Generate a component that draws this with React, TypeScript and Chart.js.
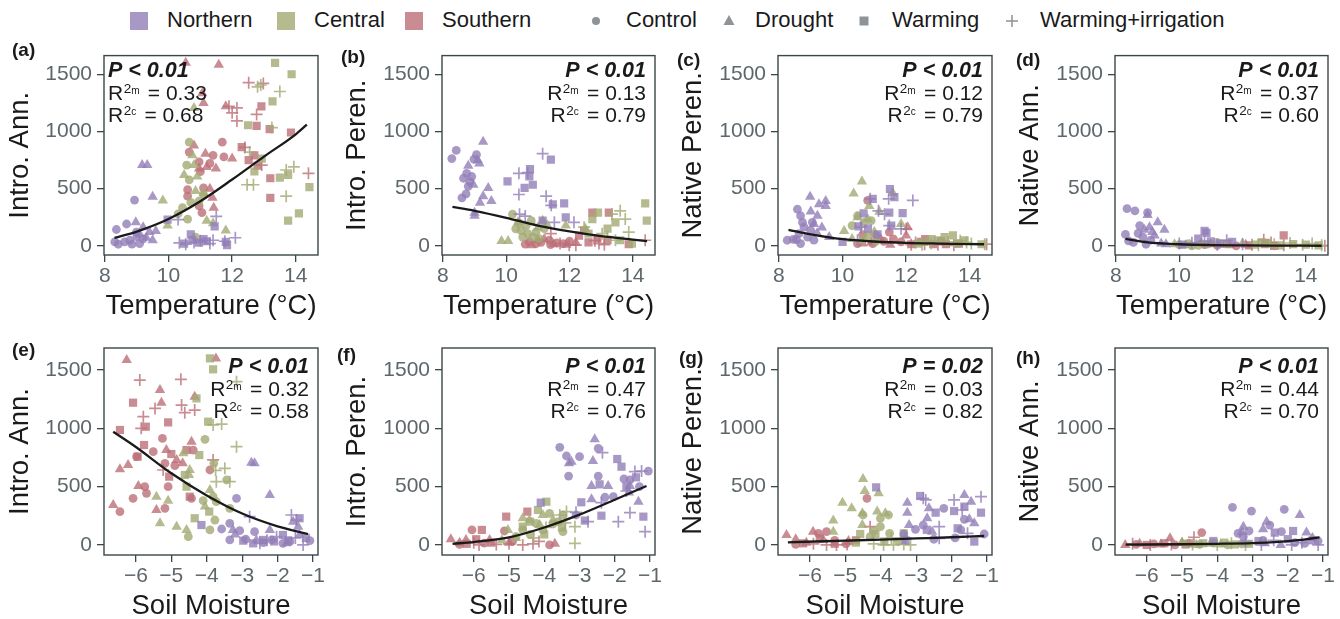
import React, { useEffect, useRef } from 'react';
import { Chart, registerables } from 'chart.js';

Chart.register(...registerables);

type P3 = [number, number, number];
type P2 = [number, number];

// treatment codes
const C = 0; // Control
const D = 1; // Drought
const W = 2; // Warming
const I = 3; // Warming+irrigation

// ---------- labels ----------
const REGIONS = ['Northern', 'Central', 'Southern'];
const TREATMENTS = ['Control', 'Drought', 'Warming', 'Warming+irrigation'];
const PANEL_LABELS = ['(a)', '(b)', '(c)', '(d)', '(e)', '(f)', '(g)', '(h)'];
const Y_TITLES = ['Intro. Ann.', 'Intro. Peren.', 'Native Peren.', 'Native Ann.', 'Intro. Ann.', 'Intro. Peren.', 'Native Peren.', 'Native Ann.'];
const X_TITLES = ['Temperature (°C)', 'Soil Moisture'];
const P_TEXTS = ['P < 0.01', 'P < 0.01', 'P < 0.01', 'P < 0.01', 'P < 0.01', 'P < 0.01', 'P = 0.02', 'P < 0.01'];
const R2M = ['0.33', '0.13', '0.12', '0.37', '0.32', '0.47', '0.03', '0.44'];
const R2C = ['0.68', '0.79', '0.79', '0.60', '0.58', '0.76', '0.82', '0.70'];
const TEMP_TICKS = [8, 10, 12, 14];
const MOIST_TICKS = [-6, -5, -4, -3, -2, -1];
const Y_TICKS = [0, 500, 1000, 1500];

// ---------- (a) Temperature vs Intro. Ann. ----------
const A_NORTH: P3[] = [
  [8.36, 143, C], [8.68, 191, C], [8.31, 34, C], [8.42, 14, C], [8.62, 34, C], [8.78, 49, C], [8.93, 400, C], [8.99, 120, C], [9.09, 20, C], [9.2, 60, C], [8.85, 15, C], [9.0, 80, C],
  [9.17, 706, D], [9.33, 706, D], [9.5, 429, D], [8.97, 206, D], [9.2, 163, D], [9.5, 49, D], [9.4, 120, D], [9.3, 70, D], [9.1, 100, D], [9.6, 130, D],
  [9.97, 229, W], [10.49, 20, W], [10.75, 49, W], [10.96, 29, W], [11.2, 40, W], [11.45, 171, W], [11.8, 34, W], [11.84, 6, W], [10.7, 100, W], [11.1, 60, W],
  [10.34, 26, I], [10.54, 14, I], [10.8, 30, I], [11.0, 45, I], [11.4, 49, I], [11.5, 257, I], [11.77, 40, I], [12.1, 71, I], [10.3, 230, I], [11.3, 20, I],
];
const A_CENTRAL: P3[] = [
  [10.65, 906, C], [10.57, 706, C], [10.65, 577, C], [10.44, 334, C], [10.3, 280, C], [10.85, 77, C], [10.6, 234, C], [10.96, 391, C], [11.1, 450, C], [10.7, 380, C],
  [9.82, 397, D], [9.97, 177, D], [10.75, 791, D], [10.8, 706, D], [10.49, 620, D], [10.9, 606, D], [10.85, 480, D], [11.2, 220, D], [11.4, 197, D], [11.8, 134, D], [10.8, 1206, D], [11.1, 460, D],
  [13.35, 1600, W], [13.87, 1500, W], [12.5, 1054, W], [13.27, 1263, W], [13.76, 620, W], [13.5, 597, W], [13.76, 220, W], [14.1, 283, W], [14.43, 514, W], [12.93, 763, W], [12.7, 650, W],
  [12.9, 1406, I], [13.5, 1349, I], [13.25, 1034, I], [12.55, 820, I], [12.67, 534, I], [12.47, 534, I], [13.7, 663, I], [13.94, 691, I], [13.7, 434, I], [12.8, 1390, I],
];
const A_SOUTH: P3[] = [
  [10.65, 820, C], [10.96, 734, C], [11.0, 649, C], [10.6, 491, C], [10.6, 434, C], [11.1, 506, C], [10.96, 349, C], [11.05, 291, C], [11.4, 791, C], [11.69, 906, C], [11.74, 777, C], [11.3, 720, C],
  [10.54, 1600, D], [11.58, 1583, D], [11.06, 1334, D], [11.1, 1249, D], [11.8, 1220, D], [10.8, 877, D], [11.16, 806, D], [10.96, 677, D], [11.2, 690, D], [11.49, 677, D], [11.42, 334, D], [11.38, 420, D], [12.0, 763, D], [11.3, 500, D],
  [12.92, 1220, W], [12.77, 1049, W], [13.18, 1020, W], [13.85, 991, W], [12.3, 863, W], [12.52, 749, W], [12.7, 791, W], [13.2, 591, W], [13.2, 420, W], [12.8, 700, W],
  [12.52, 1426, I], [12.98, 1420, I], [11.9, 1220, I], [12.15, 1206, I], [12.0, 1163, I], [12.77, 1149, I], [12.15, 1092, I], [12.93, 706, I], [14.4, 634, I], [12.4, 860, I],
];
const FIT_A: P2[] = [[8.3, 70], [9, 125], [10, 235], [11, 390], [12, 580], [13, 780], [14, 975], [14.35, 1060]];

// ---------- (b) Temperature vs Intro. Peren. ----------
const B_NORTH: P3[] = [
  [8.28, 763, C], [8.42, 834, C], [8.75, 634, C], [8.65, 591, C], [8.91, 606, C], [8.6, 420, C], [8.73, 454, C], [9.06, 797, C], [8.98, 757, C], [8.85, 560, C], [8.8, 520, C],
  [9.27, 911, D], [8.8, 700, D], [9.1, 748, D], [9.15, 720, D], [8.96, 534, D], [9.0, 263, D], [9.43, 506, D], [9.27, 434, D], [9.53, 391, D], [9.17, 377, D], [9.0, 290, D],
  [10.04, 563, W], [10.58, 506, W], [10.73, 606, W], [10.84, 534, W], [11.41, 754, W], [11.47, 363, W], [11.83, 371, W], [11.88, 249, W], [11.15, 220, W], [10.75, 670, W],
  [10.4, 634, I], [10.68, 640, I], [10.4, 449, I], [11.15, 806, I], [11.26, 434, I], [11.42, 354, I], [10.42, 277, I], [11.52, 206, I], [12.14, 206, I], [10.6, 260, I],
];
const B_CENTRAL: P3[] = [
  [10.2, 277, C], [10.3, 149, C], [10.47, 134, C], [10.52, 77, C], [10.68, 106, C], [10.84, 77, C], [10.94, 120, C], [10.63, 177, C], [11.04, 63, C], [10.79, 220, C], [10.4, 200, C], [11.2, 150, C],
  [9.85, 43, D], [10.06, 43, D], [10.37, 206, D], [11.15, 220, D], [11.88, 177, D], [11.3, 180, D], [11.0, 160, D], [12.5, 150, D],
  [14.39, 371, W], [14.44, 220, W], [12.72, 234, W], [12.9, 291, W], [13.45, 206, W], [13.6, 49, W], [13.97, 20, W], [12.6, 106, W], [13.2, 150, W],
  [13.6, 306, I], [13.34, 277, I], [13.76, 234, I], [13.87, 120, I], [12.46, 163, I], [13.03, 106, I], [13.45, 49, I], [13.2, 80, I],
];
const B_SOUTH: P3[] = [
  [10.73, 34, C], [10.94, 20, C], [11.1, 30, C], [11.4, 10, C], [11.36, 49, C], [10.6, 15, C], [11.8, 20, C], [12.0, 40, C], [11.6, 25, C],
  [10.8, 5, D], [11.0, 50, D], [11.5, 15, D], [11.2, 60, D], [12.2, 30, D], [11.9, 10, D],
  [12.72, 291, W], [13.24, 291, W], [12.46, 134, W], [12.88, 63, W], [13.87, 14, W], [12.6, 30, W], [13.2, 50, W], [12.3, 90, W],
  [11.41, 106, I], [11.99, 6, I], [12.2, 6, I], [14.39, 49, I], [12.93, 20, I], [12.8, 45, I], [11.7, 20, I], [13.1, 10, I],
];
const FIT_B: P2[] = [[8.3, 340], [9, 306], [10, 245], [11, 177], [12, 126], [13, 85], [14, 55], [14.45, 42]];

// ---------- (c) Temperature vs Native Peren. ----------
const C_NORTH: P3[] = [
  [8.26, 49, C], [8.45, 57, C], [8.58, 320, C], [8.68, 263, C], [8.74, 206, C], [8.79, 163, C], [8.63, 106, C], [8.68, 20, C], [8.9, 77, C], [9.0, 134, C], [9.05, 206, C], [9.1, 50, C], [8.55, 55, C],
  [8.98, 429, D], [9.21, 263, D], [9.26, 363, D], [9.47, 391, D], [9.47, 349, D], [9.1, 191, D], [9.2, 110, D], [9.58, 77, D], [9.35, 160, D], [9.0, 300, D],
  [10.0, 34, W], [10.95, 411, W], [10.66, 283, W], [10.5, 170, W], [11.63, 426, W], [11.49, 497, W], [11.47, 291, W], [11.89, 286, W], [11.53, 177, W], [10.8, 150, W], [11.1, 100, W],
  [10.58, 163, I], [10.87, 411, I], [11.13, 306, I], [11.45, 411, I], [12.21, 397, I], [11.47, 177, I], [11.84, 149, I], [10.47, 49, I], [11.32, 277, I],
];
const C_CENTRAL: P3[] = [
  [10.47, 263, C], [10.3, 177, C], [10.68, 206, C], [10.9, 220, C], [10.62, 50, C], [11.05, 40, C], [10.8, 90, C],
  [10.35, 457, D], [10.61, 563, D], [10.47, 249, D], [10.79, 234, D], [10.84, 349, D], [11.16, 297, D], [11.0, 120, D], [10.05, 129, D], [11.84, 191, D], [11.58, 463, D], [10.3, 60, D],
  [13.21, 77, W], [13.47, 91, W], [13.0, 49, W], [12.58, 34, W], [13.84, 49, W], [14.37, 14, W], [12.37, 20, W], [13.6, 20, W], [12.8, 60, W],
  [12.79, 20, I], [13.32, 34, I], [14.05, 20, I], [14.47, 14, I], [13.7, 45, I], [12.5, 10, I], [13.9, 30, I],
];
const C_SOUTH: P3[] = [
  [10.79, 397, C], [10.63, 97, C], [10.95, 20, C], [11.05, 91, C], [11.47, 120, C], [11.3, 40, C], [11.84, 34, C], [10.47, 20, C], [11.6, 60, C],
  [10.63, 20, D], [12.0, 91, D], [12.05, 163, D], [10.9, 30, D], [11.5, 10, D], [11.2, 60, D],
  [12.16, 14, W], [12.47, 34, W], [12.85, 14, W], [13.25, 14, W], [13.66, 20, W], [12.6, 60, W], [13.1, 40, W],
  [12.0, 149, I], [12.16, 10, I], [12.58, 14, I], [13.0, 10, I], [13.5, 5, I], [14.53, 14, I], [12.3, 30, I],
];
const FIT_C: P2[] = [[8.3, 140], [9, 100], [10, 58], [11, 38], [12, 26], [13, 20], [14.45, 14]];

// ---------- (d) Temperature vs Native Ann. ----------
const D_NORTH: P3[] = [
  [8.35, 325, C], [8.6, 306, C], [8.3, 100, C], [8.4, 43, C], [8.75, 177, C], [9.0, 291, C], [8.85, 77, C], [8.95, 14, C], [8.7, 110, C], [9.1, 50, C], [8.55, 30, C],
  [9.0, 270, D], [9.06, 163, D], [9.32, 206, D], [9.53, 140, D], [9.22, 91, D], [9.43, 20, D], [9.58, 14, D], [9.15, 120, D], [8.9, 140, D],
  [10.86, 114, W], [10.8, 130, W], [10.6, 63, W], [11.67, 34, W], [11.0, 40, W], [10.1, 10, W], [11.3, 20, W],
  [10.4, 26, I], [11.5, 49, I], [10.8, 40, I], [12.0, 14, I], [11.2, 10, I], [10.0, 20, I],
];
const D_CENTRAL: P3[] = [
  [10.0, 10, C], [10.3, 20, C], [10.6, 5, C], [10.9, 15, C], [11.2, 30, C], [10.4, 0, C],
  [9.85, 15, D], [10.2, 5, D], [10.7, 25, D], [11.5, 10, D], [12.0, 20, D],
  [12.4, 10, W], [12.8, 20, W], [13.2, 5, W], [13.6, 15, W], [14.0, 10, W], [14.4, 5, W], [12.6, 30, W],
  [12.5, 5, I], [13.0, 15, I], [13.5, 25, I], [13.9, 10, I], [14.5, 5, I], [14.2, 20, I],
];
const D_SOUTH: P3[] = [
  [10.8, 10, C], [11.2, 5, C], [11.5, 20, C], [11.8, 0, C],
  [11.0, 15, D], [11.6, 5, D], [12.1, 10, D],
  [13.3, 91, W], [12.2, 5, W], [12.7, 15, W], [13.0, 0, W],
  [12.67, 54, I], [12.3, 10, I], [12.9, 30, I], [13.3, 5, I], [14.6, 0, I],
];
const FIT_D: P2[] = [[8.3, 60], [9, 30], [10, 14], [11, 7], [12, 4], [13, 2], [14.5, 1]];

// ---------- (e) Soil moisture vs Intro. Ann. ----------
const E_NORTH: P3[] = [
  [-3.16, 400, C], [-3.35, 186, C], [-3.58, 137, C], [-3.07, 123, C], [-2.65, 114, C], [-3.35, 43, C], [-2.17, 43, C], [-1.85, 14, C], [-1.09, 37, C], [-1.65, 30, C], [-2.4, 20, C], [-2.9, 50, C],
  [-2.74, 706, D], [-2.65, 700, D], [-2.22, 429, D], [-3.26, 129, D], [-2.22, 129, D], [-1.56, 200, D], [-1.42, 157, D], [-1.38, 86, D], [-1.75, 14, D], [-2.6, 40, D], [-3.2, 90, D],
  [-4.15, 171, W], [-2.97, 37, W], [-2.69, 14, W], [-2.41, 43, W], [-1.85, 86, W], [-1.38, 229, W], [-1.7, 40, W], [-2.1, 30, W], [-1.2, 60, W],
  [-2.79, 243, I], [-1.61, 257, I], [-1.47, 214, I], [-2.5, 14, I], [-1.28, 0, I], [-2.03, 71, I], [-2.3, 40, I], [-1.5, 60, I],
];
const E_CENTRAL: P3[] = [
  [-4.52, 71, C], [-4.05, 906, C], [-3.82, 414, C], [-3.91, 129, C], [-3.77, 214, C], [-3.44, 557, C], [-3.35, 314, C], [-3.73, 371, C], [-4.1, 380, C], [-3.8, 700, C],
  [-5.32, 186, D], [-4.85, 157, D], [-4.57, 129, D], [-4.48, 643, D], [-4.66, 786, D], [-5.42, 414, D], [-5.09, 380, D], [-3.91, 471, D], [-4.05, 329, D], [-4.5, 600, D],
  [-3.91, 1600, W], [-3.82, 1506, W], [-4.29, 1257, W], [-3.96, 1057, W], [-4.21, 771, W], [-4.62, 600, W], [-4.57, 500, W], [-4.34, 229, W], [-3.93, 286, W],
  [-3.16, 1400, I], [-3.82, 1029, I], [-3.58, 1037, I], [-3.16, 843, I], [-3.49, 657, I], [-3.73, 543, I], [-3.35, 543, I], [-3.75, 640, I],
];
const E_SOUTH: P3[] = [
  [-6.45, 286, C], [-6.08, 400, C], [-5.98, 757, C], [-5.75, 500, C], [-5.7, 443, C], [-5.25, 914, C], [-5.18, 700, C], [-5.09, 500, C], [-5.18, 314, C], [-5.51, 800, C], [-4.38, 814, C], [-4.43, 400, C], [-3.91, 643, C], [-4.9, 680, C],
  [-6.26, 1586, D], [-5.32, 1329, D], [-5.28, 1220, D], [-6.64, 343, D], [-6.45, 649, D], [-6.22, 686, D], [-5.93, 506, D], [-4.43, 886, D], [-4.85, 729, D], [-4.68, 700, D], [-5.14, 814, D], [-5.42, 300, D], [-4.34, 1271, D], [-3.74, 1600, D],
  [-6.45, 986, W], [-6.08, 1220, W], [-5.72, 1014, W], [-5.77, 857, W], [-5.09, 1051, W], [-5.06, 586, W], [-4.57, 814, W], [-4.48, 414, W], [-5.95, 757, W], [-5.0, 780, W],
  [-5.89, 1414, I], [-5.79, 1100, I], [-5.46, 1171, I], [-4.73, 1420, I], [-4.71, 1200, I], [-4.62, 1134, I], [-4.34, 1157, I], [-5.23, 643, I], [-3.82, 729, I], [-5.85, 1000, I],
];
const FIT_E: P2[] = [[-6.64, 971], [-6, 840], [-5, 615], [-4, 425], [-3, 270], [-2, 160], [-1.14, 94]];

// ---------- (f) Soil moisture vs Intro. Peren. ----------
const F_NORTH: P3[] = [
  [-3.56, 837, C], [-3.37, 763, C], [-3.31, 591, C], [-3.0, 757, C], [-2.47, 591, C], [-2.47, 829, C], [-2.28, 409, C], [-2.04, 414, C], [-1.74, 566, C], [-1.57, 557, C], [-1.05, 634, C], [-3.1, 257, C], [-1.3, 500, C],
  [-2.57, 906, D], [-3.23, 714, D], [-2.62, 720, D], [-2.66, 506, D], [-2.19, 506, D], [-2.66, 391, D], [-1.33, 371, D], [-1.57, 506, D], [-3.3, 700, D], [-1.6, 450, D],
  [-4.1, 363, W], [-2.95, 366, W], [-2.43, 520, W], [-2.38, 251, W], [-2.85, 209, W], [-1.93, 737, W], [-1.81, 671, W], [-1.19, 243, W], [-1.67, 500, W], [-1.4, 580, W],
  [-2.35, 791, I], [-2.38, 363, I], [-2.76, 200, I], [-1.9, 200, I], [-1.57, 277, I], [-1.14, 114, I], [-1.43, 629, I], [-1.24, 634, I], [-1.67, 463, I], [-3.1, 280, I],
];
const F_CENTRAL: P3[] = [
  [-3.85, 271, C], [-3.47, 257, C], [-4.23, 186, C], [-4.61, 129, C], [-4.04, 129, C], [-3.47, 114, C], [-4.8, 71, C], [-3.75, 180, C], [-4.4, 90, C], [-3.6, 200, C],
  [-4.61, 229, D], [-5.03, 129, D], [-4.42, 214, D], [-4.13, 171, D], [-3.75, 214, D], [-4.04, 257, D], [-4.8, 60, D], [-5.2, 40, D],
  [-3.94, 371, W], [-4.18, 300, W], [-4.61, 157, W], [-4.4, 200, W], [-3.5, 150, W], [-4.0, 90, W],
  [-3.37, 286, I], [-3.13, 157, I], [-3.13, 14, I], [-3.56, 257, I], [-3.95, 150, I], [-4.3, 60, I], [-3.4, 190, I],
];
const F_SOUTH: P3[] = [
  [-6.05, 129, C], [-5.13, 120, C], [-3.85, 0, C], [-6.4, 5, C], [-5.7, 15, C], [-4.9, 30, C],
  [-6.65, 49, D], [-6.22, 43, D], [-5.55, 43, D], [-5.0, 20, D], [-3.7, 10, D], [-6.4, 20, D],
  [-5.08, 243, W], [-4.48, 286, W], [-5.77, 129, W], [-5.93, 49, W], [-5.5, 20, W], [-6.2, 10, W],
  [-5.85, 0, I], [-5.36, 5, I], [-4.61, 0, I], [-4.32, 10, I], [-4.15, 30, I], [-6.0, 20, I], [-5.0, 10, I],
];
const FIT_F: P2[] = [[-6.6, 10], [-6, 25], [-5, 65], [-4, 150], [-3, 260], [-2, 388], [-1.1, 506]];

// ---------- (g) Soil moisture vs Native Peren. ----------
const G_NORTH: P3[] = [
  [-3.35, 94, C], [-3.02, 134, C], [-2.5, 49, C], [-2.22, 314, C], [-1.74, 129, C], [-1.64, 220, C], [-1.08, 94, C], [-2.8, 170, C], [-1.9, 60, C],
  [-3.25, 363, D], [-3.25, 277, D], [-3.2, 171, D], [-2.69, 229, D], [-2.55, 114, D], [-1.64, 429, D], [-1.45, 371, D], [-1.36, 186, D], [-2.64, 314, D], [-1.5, 220, D],
  [-4.13, 494, W], [-2.89, 420, W], [-2.45, 277, W], [-1.93, 291, W], [-1.64, 329, W], [-1.17, 277, W], [-1.83, 143, W], [-1.36, 29, W], [-2.7, 130, W], [-3.3, 40, W],
  [-2.73, 386, I], [-1.93, 386, I], [-1.17, 414, I], [-2.35, 157, I], [-2.35, 57, I], [-1.7, 300, I], [-1.55, 100, I], [-2.8, 400, I], [-3.3, 60, I],
];
const G_CENTRAL: P3[] = [
  [-4.5, 257, C], [-4.01, 229, C], [-3.78, 257, C], [-4.01, 157, C], [-4.3, 71, C], [-3.75, 100, C], [-4.2, 120, C], [-3.5, 30, C],
  [-4.5, 566, D], [-4.45, 463, D], [-5.08, 363, D], [-4.82, 314, D], [-5.34, 209, D], [-4.06, 443, D], [-4.1, 286, D], [-4.52, 271, D], [-4.52, 171, D], [-5.34, 114, D], [-3.87, 271, D],
  [-4.58, 94, W], [-4.15, 94, W], [-3.35, 100, W], [-4.7, 20, W], [-3.9, 30, W],
  [-3.92, 0, I], [-3.64, 0, I], [-3.35, 5, I], [-3.16, 0, I], [-3.7, 60, I], [-4.2, 10, I],
];
const G_SOUTH: P3[] = [
  [-5.76, 100, C], [-5.53, 114, C], [-4.39, 400, C], [-6.4, 5, C], [-4.98, 10, C], [-5.3, 40, C],
  [-6.66, 86, D], [-6.4, 49, D], [-5.91, 114, D], [-5.62, 43, D], [-4.91, 34, D], [-6.1, 20, D],
  [-6.19, 14, W], [-5.72, 57, W], [-5.3, 10, W], [-4.7, 40, W],
  [-4.3, 157, I], [-5.53, 0, I], [-5.25, 0, I], [-4.95, 5, I], [-5.9, 10, I],
];
const FIT_G: P2[] = [[-6.62, 23], [-5, 37], [-4, 46], [-3, 56], [-2, 66], [-1.08, 77]];

// ---------- (h) Soil moisture vs Native Ann. ----------
const H_NORTH: P3[] = [
  [-3.57, 323, C], [-3.03, 291, C], [-2.1, 306, C], [-3.41, 100, C], [-3.26, 71, C], [-2.51, 171, C], [-2.18, 114, C], [-1.52, 14, C], [-1.14, 34, C], [-3.1, 120, C], [-2.7, 40, C], [-1.8, 20, C],
  [-3.26, 157, D], [-2.7, 134, D], [-2.6, 200, D], [-1.66, 257, D], [-1.47, 106, D], [-2.65, 14, D], [-2.2, 0, D], [-3.3, 110, D], [-1.3, 60, D],
  [-1.85, 120, W], [-2.37, 106, W], [-2.83, 34, W], [-4.11, 34, W], [-1.3, 40, W], [-2.0, 50, W],
  [-1.89, 0, I], [-1.14, 0, I], [-2.75, 0, I], [-3.2, 30, I], [-1.6, 20, I], [-2.4, 40, I],
];
const H_CENTRAL: P3[] = [
  [-4.9, 10, C], [-4.5, 5, C], [-4.1, 15, C], [-3.7, 0, C], [-3.3, 10, C],
  [-5.0, 20, D], [-4.6, 0, D], [-4.2, 10, D], [-3.9, 5, D],
  [-4.4, 15, W], [-3.8, 20, W], [-3.5, 5, W], [-3.1, 10, W],
  [-4.7, 5, I], [-4.0, 0, I], [-3.6, 15, I], [-3.2, 0, I],
];
const H_SOUTH: P3[] = [
  [-4.44, 106, C], [-6.3, 5, C], [-5.8, 10, C], [-5.2, 0, C], [-4.8, 15, C],
  [-5.34, 57, D], [-6.61, 0, D], [-6.2, 10, D], [-5.6, 5, D], [-5.0, 20, D],
  [-6.0, 0, W], [-5.5, 15, W], [-4.9, 5, W],
  [-4.66, 66, I], [-6.4, 10, I], [-5.9, 0, I], [-5.3, 5, I],
];
const FIT_H: P2[] = [[-6.6, 3], [-5, 6], [-4, 10], [-3, 16], [-2.5, 22], [-2, 33], [-1.5, 48], [-1.1, 66]];

const PANEL_POINTS: P3[][][] = [
  [A_NORTH, A_CENTRAL, A_SOUTH], [B_NORTH, B_CENTRAL, B_SOUTH], [C_NORTH, C_CENTRAL, C_SOUTH], [D_NORTH, D_CENTRAL, D_SOUTH],
  [E_NORTH, E_CENTRAL, E_SOUTH], [F_NORTH, F_CENTRAL, F_SOUTH], [G_NORTH, G_CENTRAL, G_SOUTH], [H_NORTH, H_CENTRAL, H_SOUTH],
];
const PANEL_FITS: P2[][] = [FIT_A, FIT_B, FIT_C, FIT_D, FIT_E, FIT_F, FIT_G, FIT_H];

// ---------- styles ----------
const FONT = '"Liberation Sans", Arial, Helvetica, sans-serif';
const TICK_COLOR = '#5d676b';
const AXIS_COLOR = '#3b4649';
const TEXT_COLOR = '#1a1a1a';
const SHAPE_GRAY = '#8d9397';
const REGION_COLORS = ['rgba(146,126,184,0.8)', 'rgba(162,170,115,0.8)', 'rgba(188,111,119,0.8)'];
const SHAPES = ['circle', 'triangle', 'rect', 'cross'];
const SHAPE_RADIUS = [4.4, 6, 5.8, 6];

// layout (page pixels)
const COL_LEFT = [0, 335, 670, 1005];
const PLOT_LEFT = [104, 107, 108, 110];
const PAD_RIGHT = [17, 15, 13, 12];
const YTITLE_PAD = [7, 9, 10, 11.5];
const ROWS = [
  { top: 38, height: 287, padTop: 14, xHeight: 70, xTitlePad: 4.8, yMin: -80, yMax: 1663, xMin: 7.97, xMax: 14.7, ticks: TEMP_TICKS },
  { top: 330, height: 289, padTop: 18, xHeight: 64, xTitlePad: -1.5, yMin: -86, yMax: 1689, xMin: -6.9, xMax: -0.86, ticks: MOIST_TICKS },
];
const LABEL_POS = [[12, 50], [341, 57], [677, 60], [1016, 60], [12, 350], [337, 355], [679, 358], [1016, 358]];

function fmtTick(v: number): string {
  return v < 0 ? '\u2212' + Math.abs(v) : String(v);
}

function drawR2(ctx: CanvasRenderingContext2D, x: number, y: number, sub: string, val: string, leftAlign: boolean) {
  const big = `21px ${FONT}`;
  const sup = `13.5px ${FONT}`;
  const sm = `10px ${FONT}`;
  ctx.textAlign = 'left';
  ctx.font = big;
  const wR = ctx.measureText('R').width;
  const rest = ' = ' + val;
  const wRest = ctx.measureText(rest).width;
  ctx.font = sup;
  const w2 = ctx.measureText('2').width;
  ctx.font = sm;
  const wS = ctx.measureText(sub).width;
  const gap = 3;
  const total = wR + w2 + wS + gap + wRest;
  const x0 = leftAlign ? x : x - total;
  ctx.font = big;
  ctx.fillText('R', x0, y);
  ctx.font = sup;
  ctx.fillText('2', x0 + wR + 0.5, y - 7);
  ctx.font = sm;
  ctx.fillText(sub, x0 + wR + w2 + 0.5, y - 6.5);
  ctx.font = big;
  ctx.fillText(rest, x0 + wR + w2 + wS + gap, y);
}

function Panel({ idx }: { idx: number }) {
  const ref = useRef<HTMLCanvasElement>(null);
  const row = idx < 4 ? 0 : 1;
  const col = idx % 4;
  const R = ROWS[row];

  useEffect(() => {
    const canvas = ref.current;
    if (!canvas) return;
    const datasets: any[] = [
      {
        type: 'line',
        data: PANEL_FITS[idx].map(([x, y]) => ({ x, y })),
        borderColor: TEXT_COLOR,
        borderWidth: 2.3,
        pointRadius: 0,
        cubicInterpolationMode: 'monotone',
        fill: false,
        order: 0,
      },
    ];
    PANEL_POINTS[idx].forEach((pts, r) => {
      for (let t = 0; t < 4; t++) {
        datasets.push({
          type: 'scatter',
          label: REGIONS[r] + ' ' + TREATMENTS[t],
          data: pts.filter((p) => p[2] === t).map((p) => ({ x: p[0], y: p[1] })),
          pointStyle: SHAPES[t],
          pointRadius: SHAPE_RADIUS[t],
          backgroundColor: t === 3 ? 'rgba(0,0,0,0)' : REGION_COLORS[r],
          borderColor: REGION_COLORS[r],
          borderWidth: t === 3 ? 1.7 : 0,
          order: 1,
        });
      }
    });

    const leftAlign = idx === 0;
    const deco = {
      id: 'deco',
      afterDraw(chart: any) {
        const { ctx, chartArea: ca } = chart;
        ctx.save();
        ctx.strokeStyle = AXIS_COLOR;
        ctx.lineWidth = 1.4;
        ctx.strokeRect(ca.left, ca.top, ca.right - ca.left, ca.bottom - ca.top);
        const base = chart.scales.y.getPixelForValue(1500);
        const xPos = leftAlign ? ca.left + 4 : ca.right - 9;
        ctx.fillStyle = TEXT_COLOR;
        ctx.textBaseline = 'alphabetic';
        ctx.font = `italic bold 21.5px ${FONT}`;
        ctx.textAlign = leftAlign ? 'left' : 'right';
        ctx.fillText(P_TEXTS[idx], xPos, base + 2.5);
        drawR2(ctx, xPos, base + 26, 'm', R2M[idx], leftAlign);
        drawR2(ctx, xPos, base + 47.5, 'c', R2C[idx], leftAlign);
        ctx.restore();
      },
    };

    const chart = new Chart(canvas, {
      type: 'scatter',
      data: { datasets },
      options: {
        animation: false,
        responsive: false,
        devicePixelRatio: 1,
        events: [],
        layout: { padding: { left: 0, right: PAD_RIGHT[col], top: R.padTop, bottom: 0 } },
        plugins: { legend: { display: false }, tooltip: { enabled: false } },
        scales: {
          x: {
            type: 'linear',
            position: 'bottom',
            min: R.xMin,
            max: R.xMax,
            afterBuildTicks: (s: any) => { s.ticks = R.ticks.map((v) => ({ value: v })); },
            afterFit: (s: any) => { s.height = R.xHeight; },
            ticks: { font: { family: FONT, size: 21 }, color: TICK_COLOR, padding: 2, maxRotation: 0, autoSkip: false, callback: (v: any) => fmtTick(Number(v)) },
            grid: { display: true, drawOnChartArea: false, drawTicks: true, tickLength: 7, color: AXIS_COLOR, lineWidth: 1.3 },
            border: { display: false },
            title: { display: true, text: X_TITLES[row], color: TEXT_COLOR, font: { family: FONT, size: 27.5, lineHeight: 1 }, padding: { top: 0, bottom: R.xTitlePad } },
          },
          y: {
            type: 'linear',
            min: R.yMin,
            max: R.yMax,
            afterBuildTicks: (s: any) => { s.ticks = Y_TICKS.map((v) => ({ value: v })); },
            afterFit: (s: any) => { s.width = PLOT_LEFT[col]; },
            ticks: { font: { family: FONT, size: 21 }, color: TICK_COLOR, padding: 5, autoSkip: false, callback: (v: any) => fmtTick(Number(v)) },
            grid: { display: true, drawOnChartArea: false, drawTicks: true, tickLength: 7, color: AXIS_COLOR, lineWidth: 1.3 },
            border: { display: false },
            title: { display: true, text: Y_TITLES[idx], color: TEXT_COLOR, font: { family: FONT, size: 27.5, lineHeight: 1 }, padding: { top: YTITLE_PAD[col], bottom: 0 } },
          },
        },
      } as any,
      plugins: [deco],
    });
    return () => chart.destroy();
  }, [idx]);

  return (
    <>
      <canvas
        ref={ref}
        width={335}
        height={R.height}
        style={{ position: 'absolute', left: COL_LEFT[col], top: R.top, width: 335, height: R.height }}
      />
      <div
        style={{
          position: 'absolute',
          left: LABEL_POS[idx][0],
          top: LABEL_POS[idx][1] - 10,
          font: `bold 19px/20px ${FONT}`,
          color: TEXT_COLOR,
          whiteSpace: 'nowrap',
        }}
      >
        {PANEL_LABELS[idx]}
      </div>
    </>
  );
}

const LEGEND_SQUARE_X = [130, 277, 405];
const LEGEND_REGION_TEXT_X = [167, 314, 442];
const LEGEND_SHAPE_X = [596, 729, 864, 1012];
const LEGEND_SHAPE_TEXT_X = [626, 755, 892, 1040];

function Legend() {
  const cy = 21;
  const textStyle = (x: number): React.CSSProperties => ({
    position: 'absolute',
    left: x,
    top: 9,
    font: `22px/22px ${FONT}`,
    color: TEXT_COLOR,
    whiteSpace: 'nowrap',
  });
  return (
    <>
      <svg width={1340} height={40} style={{ position: 'absolute', left: 0, top: 0 }}>
        {LEGEND_SQUARE_X.map((x, i) => (
          <rect key={i} x={x} y={12} width={18} height={18} fill={REGION_COLORS[i]} />
        ))}
        <circle cx={LEGEND_SHAPE_X[0]} cy={cy} r={4} fill={SHAPE_GRAY} />
        <polygon
          points={`${LEGEND_SHAPE_X[1]},${cy - 6} ${LEGEND_SHAPE_X[1] - 5.5},${cy + 4} ${LEGEND_SHAPE_X[1] + 5.5},${cy + 4}`}
          fill={SHAPE_GRAY}
        />
        <rect x={LEGEND_SHAPE_X[2] - 4.5} y={cy - 4.5} width={9} height={9} fill={SHAPE_GRAY} />
        <path
          d={`M${LEGEND_SHAPE_X[3] - 6} ${cy} H${LEGEND_SHAPE_X[3] + 6} M${LEGEND_SHAPE_X[3]} ${cy - 6} V${cy + 6}`}
          stroke={SHAPE_GRAY}
          strokeWidth={1.5}
        />
      </svg>
      {REGIONS.map((r, i) => (
        <div key={r} style={textStyle(LEGEND_REGION_TEXT_X[i])}>{r}</div>
      ))}
      {TREATMENTS.map((t, i) => (
        <div key={t} style={textStyle(LEGEND_SHAPE_TEXT_X[i])}>{t}</div>
      ))}
    </>
  );
}

export default function App() {
  return (
    <div
      style={{
        position: 'fixed',
        left: 0,
        top: 0,
        width: 1340,
        height: 619,
        background: '#ffffff',
        overflow: 'hidden',
        fontFamily: FONT,
      }}
    >
      <Legend />
      {PANEL_LABELS.map((_, i) => (
        <Panel key={i} idx={i} />
      ))}
    </div>
  );
}
